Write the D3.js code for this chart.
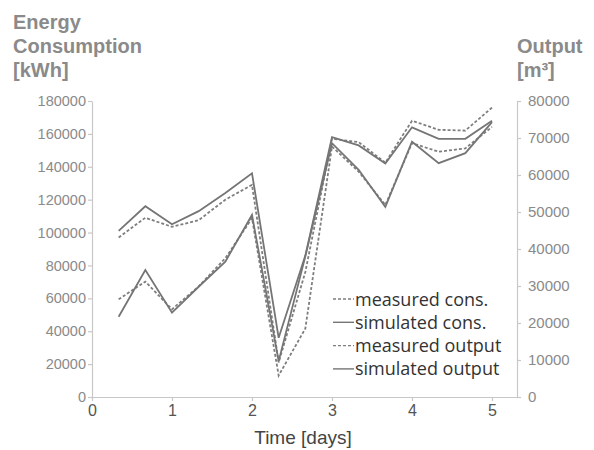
<!DOCTYPE html>
<html><head><meta charset="utf-8">
<script src="https://cdn.jsdelivr.net/npm/d3@7"></script>
<style>body{margin:0;background:#fff}svg{display:block}</style>
</head><body><svg id="c" width="594" height="450"></svg>
<script>
const days = [1/3, 2/3, 1, 4/3, 5/3, 2, 7/3, 8/3, 3, 10/3, 11/3, 4, 13/3, 14/3, 5];
const measuredCons = [97000, 109000, 103500, 107500, 120000, 129000, 21000, 76000, 157000, 155000, 142500, 168000, 162500, 162000, 176000];
const simulatedCons = [101000, 116000, 105000, 113000, 124000, 136000, 36000, 86000, 158000, 153000, 142000, 164000, 157000, 157000, 168000];
const measuredOutput = [26400, 31200, 23700, 29900, 37500, 48300, 5800, 18500, 67700, 60900, 51900, 68600, 66300, 67200, 73000];
const simulatedOutput = [21700, 34300, 22800, 29800, 36600, 49200, 9700, 38000, 68600, 61400, 51400, 69000, 63200, 65900, 74300];
const xTicks = [0, 1, 2, 3, 4, 5];
const yLeftTicks = [0, 20000, 40000, 60000, 80000, 100000, 120000, 140000, 160000, 180000];
const yRightTicks = [0, 10000, 20000, 30000, 40000, 50000, 60000, 70000, 80000];
const legendLabels = ["measured cons.", "simulated cons.", "measured output", "simulated output"];

const svg = d3.select("#c");
const L = 92, R = 517, T = 101, B = 397;
const x = d3.scaleLinear().domain([0, 5.3125]).range([L, R]);
const yL = d3.scaleLinear().domain([0, 180000]).range([B, T]);
const yR = d3.scaleLinear().domain([0, 80000]).range([B, T]);
const font = "'Liberation Sans', Arial, sans-serif";
const axisCol = "#c8c8c8", tickText = "#8a8a8a";

function styleAxis(g) {
  g.selectAll("path.domain").attr("stroke", axisCol).attr("stroke-width", 1.2);
  g.selectAll(".tick line").attr("stroke", axisCol).attr("stroke-width", 1.2);
  g.selectAll(".tick text").attr("fill", tickText).style("font-family", font).style("font-size", "14.5px");
}
const gl = svg.append("g").attr("transform", `translate(${L},0)`)
  .call(d3.axisLeft(yL).tickValues(yLeftTicks).tickFormat(d3.format("d")).tickSize(4).tickSizeOuter(0).tickPadding(2));
styleAxis(gl);
const gr = svg.append("g").attr("transform", `translate(${R},0)`)
  .call(d3.axisRight(yR).tickValues(yRightTicks).tickFormat(d3.format("d")).tickSize(4).tickSizeOuter(0).tickPadding(7));
styleAxis(gr);
gr.selectAll(".tick text").style("font-size", "15px");
const gb = svg.append("g").attr("transform", `translate(0,${B})`)
  .call(d3.axisBottom(x).tickValues(xTicks).tickFormat(d3.format("d")).tickSize(4).tickSizeOuter(0).tickPadding(4));
styleAxis(gb);
gb.selectAll(".tick text").attr("fill", "#555").style("font-size", "16px");

const series = [
  {v: measuredCons, y: yL, dash: "3,2", col: "#7e7e7e"},
  {v: simulatedCons, y: yL, dash: null, col: "#757575"},
  {v: measuredOutput, y: yR, dash: "3,2", col: "#7e7e7e"},
  {v: simulatedOutput, y: yR, dash: null, col: "#757575"}
];
series.forEach(s => {
  const line = d3.line().x((d, i) => x(days[i])).y(d => s.y(d));
  svg.append("path").datum(s.v).attr("d", line).attr("fill", "none")
    .attr("stroke", s.col).attr("stroke-width", 1.8)
    .attr("stroke-dasharray", s.dash).attr("stroke-linejoin", "miter");
});

// legend
const lg = svg.append("g");
legendLabels.forEach((t, i) => {
  const yy = 299 + i * 23.3;
  lg.append("line").attr("x1", 333).attr("x2", 354).attr("y1", yy).attr("y2", yy)
    .attr("stroke", series[i].col).attr("stroke-width", 1.4).attr("stroke-dasharray", series[i].dash);
  lg.append("text").attr("x", 355).attr("y", yy + 6.5).text(t)
    .attr("fill", "#333").style("font-family", "'Open Sans', sans-serif").style("font-size", "18px");
});

// titles
const tt = svg.append("g").style("font-family", font).style("font-weight", "bold").style("font-size", "20px").attr("fill", "#8a8a8a");
["Energy", "Consumption", "[kWh]"].forEach((t, i) => tt.append("text").attr("x", 13).attr("y", 29 + i * 24).text(t));
["Output", "[m\u00B3]"].forEach((t, i) => tt.append("text").attr("x", 517).attr("y", 53 + i * 24).text(t));
svg.append("text").attr("x", 303).attr("y", 444).attr("text-anchor", "middle").text("Time [days]")
  .attr("fill", "#444").style("font-family", font).style("font-size", "19px");
</script></body></html>
